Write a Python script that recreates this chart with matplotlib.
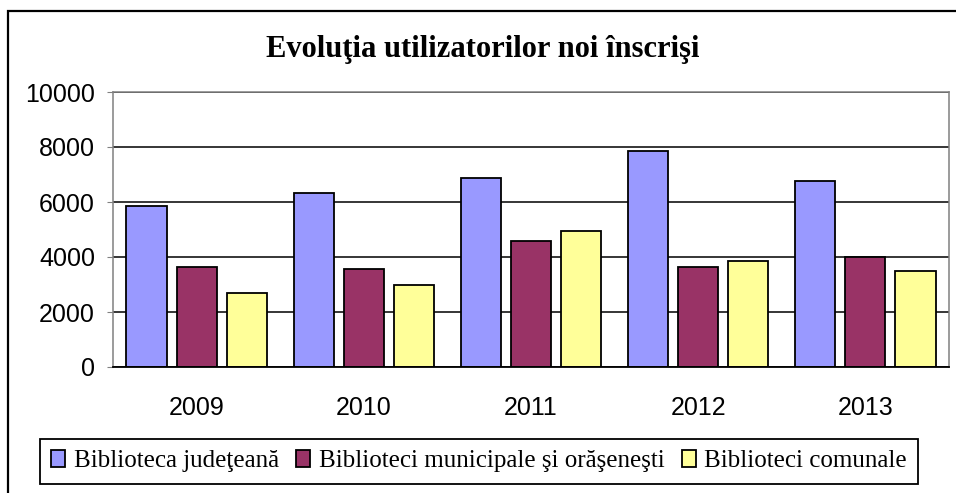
import matplotlib.pyplot as plt
import numpy as np
from matplotlib.patches import Rectangle

years = ["2009", "2010", "2011", "2012", "2013"]
judeteana = [5870, 6320, 6890, 7850, 6760]
municipale = [3630, 3550, 4570, 3640, 4000]
comunale = [2680, 2970, 4940, 3850, 3490]
series_names = ["Biblioteca judeţeană", "Biblioteci municipale şi orăşeneşti", "Biblioteci comunale"]
colors = ["#9999FF", "#993366", "#FFFF99"]
y_ticks = [0, 2000, 4000, 6000, 8000, 10000]

W, H = 956, 493
fig = plt.figure(figsize=(W / 100, H / 100), dpi=100)
fig.patch.set_facecolor("white")

# outer chart frame (runs off the right/bottom edge like the source)
fig.patches.append(Rectangle((8 / W, -0.05), 1.1, 1 - 11 / H + 0.05, transform=fig.transFigure,
                             fill=False, edgecolor="black", linewidth=1.6))

ax = fig.add_axes([113 / W, 1 - 367 / H, (949 - 113) / W, (367 - 92) / H])
x = np.arange(len(years))
width = 0.24
step = 0.30
for i, (vals, name, c) in enumerate(zip([judeteana, municipale, comunale], series_names, colors)):
    ax.bar(x + (i - 1) * step, vals, width, color=c, edgecolor="black", linewidth=1.3,
           label=name, zorder=3)

ax.set_xlim(-0.5, len(years) - 0.5)
ax.set_ylim(0, 10000)
ax.set_yticks(y_ticks)
ax.set_xticks(x)
ax.set_xticklabels(years)
ax.yaxis.grid(True, color="black", linewidth=1.1, zorder=1)
ax.set_axisbelow(True)

for s in ["left", "top", "right"]:
    ax.spines[s].set_color("#808080")
    ax.spines[s].set_linewidth(1.1)
ax.spines["bottom"].set_color("black")
ax.spines["bottom"].set_linewidth(1.3)
ax.spines["bottom"].set_zorder(4)

ax.tick_params(axis="y", length=4, color="#808080", pad=9, labelsize=18)
ax.tick_params(axis="x", length=0, pad=21, labelsize=18)
for lab in ax.get_xticklabels() + ax.get_yticklabels():
    lab.set_family("Liberation Sans")

fig.text(483 / W, 1 - 50 / H, "Evoluţia utilizatorilor noi înscrişi", ha="center", va="center",
         fontsize=22, fontweight="bold", family="Liberation Serif")

leg = fig.legend(loc="center", bbox_to_anchor=(479 / W, 1 - 461 / H), ncol=3,
                 prop={"family": "Liberation Serif", "size": 18},
                 frameon=True, fancybox=False, edgecolor="black", framealpha=1,
                 handlelength=0.55, handleheight=0.7, handletextpad=0.35,
                 columnspacing=0.7, borderpad=0.45)
leg.get_frame().set_linewidth(1.3)

fig.savefig("out.png", dpi=100, facecolor="white")
